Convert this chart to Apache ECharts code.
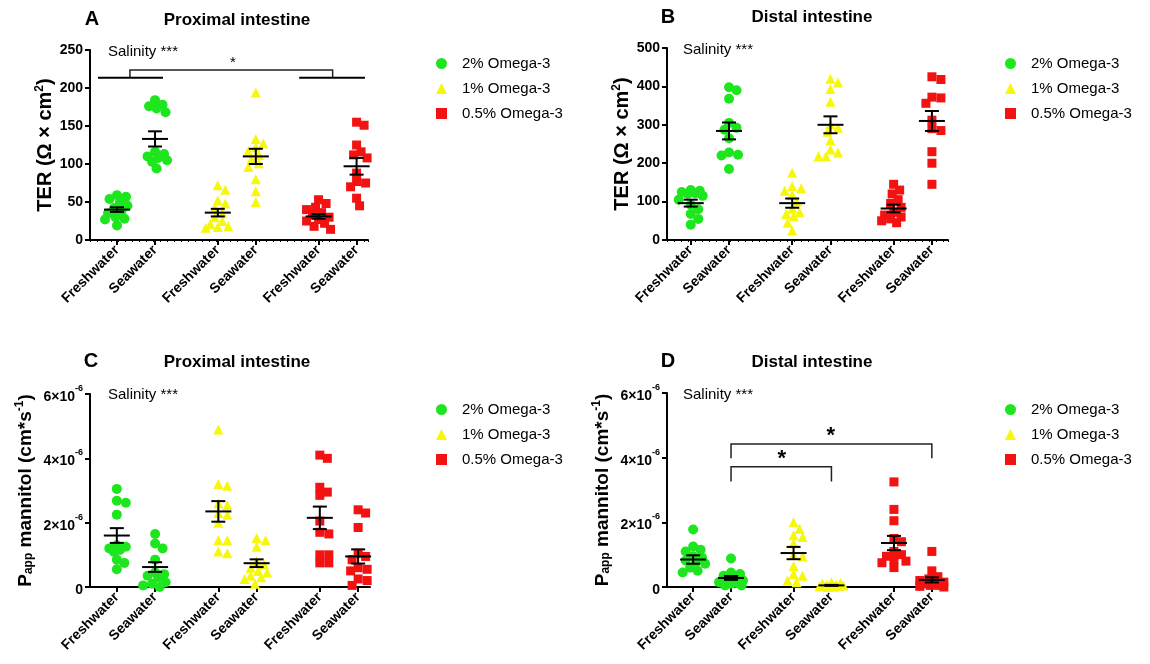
<!DOCTYPE html>
<html>
<head>
<meta charset="utf-8">
<script src="https://cdn.jsdelivr.net/npm/echarts@6/dist/echarts.min.js"></script>
<style>
html, body { margin: 0; padding: 0; background: #fff; }
#chart { width: 1150px; height: 664px; }
</style>
</head>
<body>
<div id="chart"></div>
<script>
var FONT = '"Liberation Sans", Arial, sans-serif';

// categories (x positions keep the gap between diet groups)
var xLabels = ['Freshwater', 'Seawater', 'Freshwater', 'Seawater', 'Freshwater', 'Seawater'];
var xPos = [1, 2, 3.65, 4.65, 6.3, 7.3];
var diets = ['2% Omega-3', '1% Omega-3', '0.5% Omega-3'];
var dietColors = ['#1ee61e', '#f7f70a', '#f21212'];
var dietSymbols = ['circle', 'triangle', 'rect'];

// A - TER proximal intestine (Ω × cm²), [freshwater, seawater]
var terProx2 = [[59, 57, 54, 50, 45, 42, 38, 35, 30, 28, 27, 19], [184, 178, 176, 173, 168, 116, 113, 110, 108, 105, 103, 94]];
var terProx1 = [[72, 66, 52, 48, 42, 36, 30, 25, 21, 18, 17, 16], [194, 133, 127, 122, 117, 112, 106, 101, 96, 80, 64, 50]];
var terProx05 = [[53, 48, 43, 40, 36, 33, 30, 27, 25, 22, 18, 14], [155, 151, 125, 116, 112, 108, 88, 77, 75, 70, 55, 45]];
var terProxMean = [40, 133, 36, 110, 31, 97];
var terProxSem = [3, 10, 5, 10, 3, 11];

// B - TER distal intestine
var terDist2 = [[130, 128, 125, 122, 120, 115, 105, 92, 80, 68, 55, 40], [398, 390, 368, 305, 292, 287, 265, 228, 222, 220, 185]];
var terDist1 = [[175, 140, 135, 128, 118, 100, 82, 72, 68, 62, 45, 25], [420, 410, 393, 360, 302, 292, 282, 260, 236, 228, 218, 218]];
var terDist05 = [[145, 130, 120, 105, 95, 85, 72, 65, 60, 55, 50, 45], [425, 418, 372, 370, 356, 312, 290, 285, 230, 200, 145]];
var terDistMean = [96, 284, 96, 300, 82, 310];
var terDistSem = [9, 22, 12, 22, 10, 26];

// C - Papp mannitol proximal intestine (×10⁻⁶ cm/s)
var pappProx2 = [[3.05, 2.68, 2.62, 2.25, 1.3, 1.25, 1.2, 1.15, 1.1, 0.85, 0.75, 0.55], [1.65, 1.35, 1.2, 0.85, 0.45, 0.4, 0.35, 0.3, 0.15, 0.1, 0.05, 0]];
var pappProx1 = [[4.9, 3.2, 3.15, 2.6, 2.55, 2.3, 2.25, 2.0, 1.45, 1.45, 1.1, 1.05], [1.52, 1.45, 1.25, 0.8, 0.7, 0.6, 0.5, 0.45, 0.35, 0.3, 0.25, 0.1]];
var pappProx05 = [[4.1, 4.0, 3.1, 2.95, 2.85, 2.05, 1.7, 1.65, 1.0, 1.0, 0.75, 0.75], [2.4, 2.3, 1.85, 1.05, 0.95, 0.85, 0.6, 0.55, 0.5, 0.25, 0.2, 0.05]];
var pappProxMean = [1.6, 0.62, 2.35, 0.74, 2.15, 0.95];
var pappProxSem = [0.23, 0.15, 0.32, 0.12, 0.35, 0.22];

// D - Papp mannitol distal intestine
var pappDist2 = [[1.78, 1.25, 1.15, 1.1, 0.95, 0.9, 0.82, 0.78, 0.72, 0.6, 0.5, 0.45], [0.88, 0.45, 0.4, 0.35, 0.3, 0.25, 0.2, 0.15, 0.12, 0.1, 0.05, 0.05]];
var pappDist1 = [[2.0, 1.8, 1.6, 1.55, 1.35, 1.0, 0.95, 0.65, 0.4, 0.35, 0.2, 0.15], [0.15, 0.12, 0.1, 0.08, 0.07, 0.05, 0.04, 0.03, 0.02, 0.02, 0.01, 0]];
var pappDist05 = [[3.25, 2.4, 2.05, 1.5, 1.4, 1.1, 1.0, 0.95, 0.85, 0.8, 0.75, 0.6], [1.1, 0.5, 0.32, 0.25, 0.2, 0.15, 0.12, 0.1, 0.05, 0.05, 0.02, 0]];
var pappDistMean = [0.85, 0.28, 1.05, 0.05, 1.36, 0.22];
var pappDistSem = [0.13, 0.06, 0.19, 0.015, 0.22, 0.08];

// significance brackets: [x1, x2, yLow, yHigh], stars: [x, y]
var bracketsA = [[1.34, 6.67, 213.5, 223.7]];
var groupBarsA = [[0.5, 2.21, 213.5], [5.79, 7.52, 213.5]];
var starsA = [[4.05, 233]];
var bracketsD = [[2, 4.65, 3.26, 3.72], [2, 7.3, 3.98, 4.42]];
var starsD = [[3.34, 3.95], [4.63, 4.68]];

var panels = [
  { grid: { left: 90, top: 50, width: 278, height: 190 }, x: [0.29, 7.6], y: [0, 250, 50],
    sets: [terProx2, terProx1, terProx05], mean: terProxMean, sem: terProxSem, papp: false },
  { grid: { left: 667, top: 48, width: 281, height: 192 }, x: [0.38, 7.72], y: [0, 500, 100],
    sets: [terDist2, terDist1, terDist05], mean: terDistMean, sem: terDistSem, papp: false },
  { grid: { left: 90, top: 394, width: 280, height: 193 }, x: [0.3, 7.61], y: [0, 6, 2],
    sets: [pappProx2, pappProx1, pappProx05], mean: pappProxMean, sem: pappProxSem, papp: true },
  { grid: { left: 667, top: 393, width: 280, height: 194 }, x: [0.31, 7.7], y: [0, 6, 2],
    sets: [pappDist2, pappDist1, pappDist05], mean: pappDistMean, sem: pappDistSem, papp: true }
];

// spread points sideways (scatter dot plot); keep within +-12px, allow overlap when crowded
var offsets = [0];
for (var o = 1.5; o <= 12; o += 1.5) { offsets.push(o, -o); }

function swarm(vals, x0, pxX, pxY) {
  var dist = 8, placed = [];
  return vals.slice().sort(function (a, b) { return b - a; }).map(function (v) {
    var py = v * pxY, best = 0, bestGap = -1;
    for (var k = 0; k < offsets.length; k++) {
      var off = offsets[k], gap = Infinity;
      placed.forEach(function (p) {
        var dx = p[0] - off, dy = p[1] - py;
        gap = Math.min(gap, Math.sqrt(dx * dx + dy * dy));
      });
      if (gap >= dist) { best = off; bestGap = gap; break; }
      if (gap > bestGap + 0.5) { best = off; bestGap = gap; }
    }
    placed.push([best, py]);
    return [x0 + best / pxX, v];
  });
}

function errorBar(params, api) {
  var x = api.value(0), m = api.value(1), s = api.value(2);
  var c = api.coord([x, m]), t = api.coord([x, m + s]), b = api.coord([x, m - s]);
  var st = { stroke: '#000', lineWidth: 2 };
  return { type: 'group', children: [
    { type: 'line', shape: { x1: c[0] - 13, y1: c[1], x2: c[0] + 13, y2: c[1] }, style: st },
    { type: 'line', shape: { x1: c[0], y1: t[1], x2: c[0], y2: b[1] }, style: st },
    { type: 'line', shape: { x1: c[0] - 7, y1: t[1], x2: c[0] + 7, y2: t[1] }, style: st },
    { type: 'line', shape: { x1: c[0] - 7, y1: b[1], x2: c[0] + 7, y2: b[1] }, style: st }
  ] };
}

function bracket(params, api) {
  var p1 = api.coord([api.value(0), api.value(2)]), p2 = api.coord([api.value(0), api.value(3)]);
  var p3 = api.coord([api.value(1), api.value(3)]), p4 = api.coord([api.value(1), api.value(2)]);
  return { type: 'polyline', shape: { points: [p1, p2, p3, p4] },
    style: { stroke: '#222', lineWidth: 1.5, fill: null } };
}

function groupBar(params, api) {
  var a = api.coord([api.value(0), api.value(2)]), b = api.coord([api.value(1), api.value(2)]);
  return { type: 'line', shape: { x1: a[0], y1: a[1], x2: b[0], y2: b[1] }, style: { stroke: '#000', lineWidth: 2 } };
}

function starItem(size, bold) {
  return function (params, api) {
    var p = api.coord([api.value(0), api.value(1)]);
    return { type: 'text', x: p[0], y: p[1], style: { text: '*', font: (bold ? 'bold ' : '') + size + 'px ' + FONT,
      fill: '#000', align: 'center', verticalAlign: 'middle' } };
  };
}

var xAxes = [], yAxes = [], grids = [], series = [], legends = [];

panels.forEach(function (p, i) {
  grids.push(p.grid);
  var pxX = p.grid.width / (p.x[1] - p.x[0]);
  var pxY = p.grid.height / (p.y[1] - p.y[0]);
  xAxes.push({
    type: 'value', gridIndex: i, min: p.x[0], max: p.x[1], position: 'bottom',
    axisLine: { lineStyle: { color: '#000', width: 2 } },
    axisTick: { customValues: xPos, length: 5, lineStyle: { color: '#000', width: 2 } },
    axisLabel: { customValues: xPos, rotate: 45, margin: 8, color: '#000', fontFamily: FONT, fontSize: 14, fontWeight: 'bold',
      formatter: function (v) {
        var k = xPos.indexOf(v);
        return k < 0 ? '' : xLabels[k];
      } },
    splitLine: { show: false }
  });
  var fs = p.papp ? 19 : 20;
  var rich = {
    n: { fontFamily: FONT, fontSize: fs, fontWeight: 'bold', color: '#000', lineHeight: fs + 2, verticalAlign: 'bottom' },
    s: { fontFamily: FONT, fontSize: 12, fontWeight: 'bold', color: '#000', lineHeight: 12, verticalAlign: 'top' },
    sub: { fontFamily: FONT, fontSize: 12, fontWeight: 'bold', color: '#000', lineHeight: 12, verticalAlign: 'bottom' }
  };
  yAxes.push({
    type: 'value', gridIndex: i, min: p.y[0], max: p.y[1], interval: p.y[2],
    name: p.papp ? '{n|P}{sub|app}{n| mannitol (cm*s}{s|-1}{n|)}' : '{n|TER (Ω × cm}{s|2}{n|)}',
    nameLocation: 'middle', nameGap: p.papp ? 55 : 33, nameTextStyle: { rich: rich },
    axisLine: { show: true, lineStyle: { color: '#000', width: 2 } },
    axisTick: { show: true, length: 5, lineStyle: { color: '#000', width: 2 } },
    axisLabel: { margin: 7, color: '#000', fontFamily: FONT, fontSize: 14, fontWeight: 'bold',
      formatter: p.papp ? function (v) { return v === 0 ? '{b|0}' : '{b|' + v + '×10}{e|-6}'; } : null,
      rich: {
        b: { fontFamily: FONT, fontSize: 14, fontWeight: 'bold', color: '#000', lineHeight: 20, verticalAlign: 'bottom' },
        e: { fontFamily: FONT, fontSize: 9, fontWeight: 'bold', color: '#000', lineHeight: 10, verticalAlign: 'top' }
      } },
    splitLine: { show: false }
  });

  p.sets.forEach(function (set, d) {
    var pts = swarm(set[0], xPos[2 * d], pxX, pxY).concat(swarm(set[1], xPos[2 * d + 1], pxX, pxY));
    series.push({
      type: 'scatter', name: diets[d], xAxisIndex: i, yAxisIndex: i, symbol: dietSymbols[d],
      symbolSize: d === 2 ? 9 : 10, itemStyle: { color: dietColors[d], opacity: 1 }, clip: false, z: 2, data: pts
    });
  });
  series.push({
    type: 'custom', xAxisIndex: i, yAxisIndex: i, z: 5, renderItem: errorBar,
    encode: { x: 0, y: 1 },
    data: xPos.map(function (x, k) { return [x, p.mean[k], p.sem[k]]; })
  });

  legends.push({
    orient: 'vertical', left: i % 2 ? 1000 : 431, top: i < 2 ? 51 : 397,
    itemWidth: 11, itemHeight: 11, itemGap: 10, selectedMode: false,
    textStyle: { fontFamily: FONT, fontSize: 15, color: '#000', padding: [0, 0, 0, 10] },
    data: diets
  });
});

// faint minor ticks along the x axis of panels A and B
[0, 1].forEach(function (i) {
  var p = panels[i];
  xAxes.push({
    type: 'value', gridIndex: i, min: p.x[0], max: p.x[1], interval: 0.185, position: 'bottom',
    axisLine: { show: false }, axisLabel: { show: false }, splitLine: { show: false },
    axisTick: { length: 2, lineStyle: { color: '#000', width: 1 } }
  });
});

series.push({ type: 'custom', xAxisIndex: 0, yAxisIndex: 0, renderItem: bracket, encode: { x: [0, 1], y: [2, 3] }, data: bracketsA });
series.push({ type: 'custom', xAxisIndex: 0, yAxisIndex: 0, renderItem: groupBar, encode: { x: [0, 1], y: 2 }, data: groupBarsA });
series.push({ type: 'custom', xAxisIndex: 0, yAxisIndex: 0, renderItem: starItem(15, false), encode: { x: 0, y: 1 }, data: starsA });
series.push({ type: 'custom', xAxisIndex: 3, yAxisIndex: 3, renderItem: bracket, encode: { x: [0, 1], y: [2, 3] }, data: bracketsD });
series.push({ type: 'custom', xAxisIndex: 3, yAxisIndex: 3, renderItem: starItem(22, true), encode: { x: 0, y: 1 }, data: starsD });

function txt(x, y, s, font, align) {
  return { type: 'text', x: x, y: y, silent: true,
    style: { text: s, font: font, fill: '#000', align: align || 'center', verticalAlign: 'middle' } };
}

var chart = echarts.init(document.getElementById('chart'));
chart.setOption({
  animation: false,
  backgroundColor: '#fff',
  grid: grids,
  xAxis: xAxes,
  yAxis: yAxes,
  legend: legends,
  series: series,
  graphic: [
    txt(92, 19, 'A', 'bold 20px ' + FONT),
    txt(237, 20, 'Proximal intestine', 'bold 17px ' + FONT),
    txt(668, 17, 'B', 'bold 20px ' + FONT),
    txt(812, 17, 'Distal intestine', 'bold 17px ' + FONT),
    txt(91, 361, 'C', 'bold 20px ' + FONT),
    txt(237, 362, 'Proximal intestine', 'bold 17px ' + FONT),
    txt(668, 361, 'D', 'bold 20px ' + FONT),
    txt(812, 362, 'Distal intestine', 'bold 17px ' + FONT),
    txt(108, 52, 'Salinity ***', '15px ' + FONT, 'left'),
    txt(683, 50, 'Salinity ***', '15px ' + FONT, 'left'),
    txt(108, 395, 'Salinity ***', '15px ' + FONT, 'left'),
    txt(683, 395, 'Salinity ***', '15px ' + FONT, 'left')
  ]
});
</script>
</body>
</html>
